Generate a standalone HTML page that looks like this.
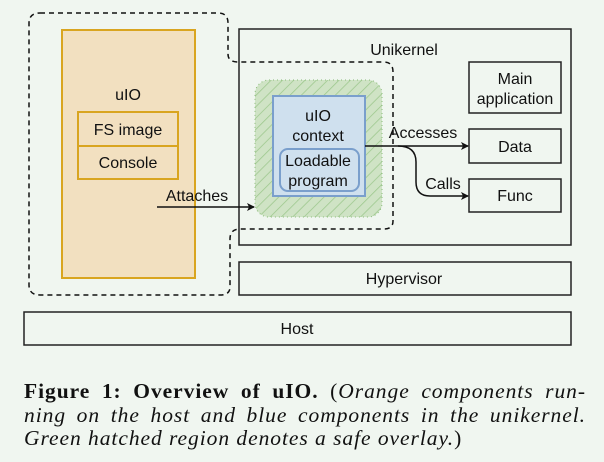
<!DOCTYPE html>
<html><head><meta charset="utf-8"><style>
html,body{margin:0;padding:0;background:#f0f6f0;}
body{width:604px;height:462px;position:relative;overflow:hidden;}
svg{position:absolute;left:0;top:0;}
.cap{position:absolute;left:24px;width:562px;font-family:"Liberation Serif",serif;font-size:21.5px;letter-spacing:0.95px;color:#111;line-height:23.5px;top:380px;text-align:justify;white-space:nowrap;}
.cap div{white-space:normal;}
.cap b{font-weight:bold;}
</style></head><body>
<svg width="604" height="462" xmlns="http://www.w3.org/2000/svg" font-family="Liberation Sans, sans-serif" font-size="16" fill="#111">
<defs>
<pattern id="h" width="8" height="8" patternUnits="userSpaceOnUse" patternTransform="rotate(45)">
<rect width="8" height="8" fill="#cfe3c5"/><line x1="0" y1="0" x2="0" y2="8" stroke="#9cc78c" stroke-width="1.5"/>
</pattern>
<marker id="a" markerWidth="8" markerHeight="8" refX="7" refY="4" orient="auto" markerUnits="userSpaceOnUse"><path d="M0,0 L8,4 L0,8 L2,4 Z" fill="#111"/></marker>
</defs>
<rect x="62" y="30" width="133" height="248" fill="#f2e0c0" stroke="#d9a520" stroke-width="2"/>
<rect x="78" y="112" width="100" height="34" fill="none" stroke="#d9a520" stroke-width="2"/>
<rect x="78" y="146" width="100" height="33" fill="none" stroke="#d9a520" stroke-width="2"/>
<text x="128" y="100" text-anchor="middle">uIO</text>
<text x="128" y="135" text-anchor="middle">FS image</text>
<text x="128" y="168" text-anchor="middle">Console</text>
<rect x="239" y="29" width="332" height="216" fill="none" stroke="#222" stroke-width="1.5"/>
<text x="404" y="55" text-anchor="middle">Unikernel</text>
<rect x="255" y="80" width="127" height="137" rx="14" fill="url(#h)" stroke="#88bb77" stroke-dasharray="1,3"/>
<rect x="273" y="96" width="92" height="100" fill="#cfe0ee" stroke="#7a9fcc" stroke-width="2"/>
<rect x="280" y="149" width="79" height="42" rx="8" fill="none" stroke="#7a9fcc" stroke-width="2"/>
<text x="318" y="121" text-anchor="middle">uIO</text>
<text x="318" y="141" text-anchor="middle">context</text>
<text x="318" y="166" text-anchor="middle">Loadable</text>
<text x="318" y="186" text-anchor="middle">program</text>
<rect x="469" y="62" width="92" height="51" fill="none" stroke="#222" stroke-width="1.5"/>
<text x="515" y="84" text-anchor="middle">Main</text>
<text x="515" y="104" text-anchor="middle">application</text>
<rect x="469" y="129" width="92" height="34" fill="none" stroke="#222" stroke-width="1.5"/>
<text x="515" y="152" text-anchor="middle">Data</text>
<rect x="469" y="179" width="92" height="33" fill="none" stroke="#222" stroke-width="1.5"/>
<text x="515" y="201" text-anchor="middle">Func</text>
<rect x="239" y="262" width="332" height="33" fill="none" stroke="#222" stroke-width="1.5"/>
<text x="404" y="284" text-anchor="middle">Hypervisor</text>
<rect x="24" y="312" width="547" height="33" fill="none" stroke="#222" stroke-width="1.5"/>
<text x="297" y="334" text-anchor="middle">Host</text>
<path d="M40,13 L218,13 Q228,13 228,23 L228,54 Q228,62 238,62 L384,62 Q393,62 393,72 L393,221 Q393,229 384,229 L240,229 Q230,229 230,239 L230,287 Q230,295 220,295 L40,295 Q29,295 29,285 L29,23 Q29,13 40,13 Z" fill="none" stroke="#111" stroke-width="1.5" stroke-dasharray="5,4"/>
<line x1="365" y1="146" x2="468" y2="146" stroke="#111" stroke-width="1.5" marker-end="url(#a)"/>
<path d="M398,146 Q416,146 416,162 L416,182 Q416,196 430,196 L468,196" fill="none" stroke="#111" stroke-width="1.5" marker-end="url(#a)"/>
<line x1="157" y1="207" x2="254" y2="207" stroke="#111" stroke-width="1.5" marker-end="url(#a)"/>
<text x="197" y="201" text-anchor="middle">Attaches</text>
<text x="423" y="138" text-anchor="middle">Accesses</text>
<text x="443" y="189" text-anchor="middle">Calls</text>
</svg>
<div class="cap"><div style="text-align-last:justify"><b>Figure 1: Overview of uIO.</b> (<i>Orange components run-</i></div><div style="text-align-last:justify"><i>ning on the host and blue components in the unikernel.</i></div><div><i>Green hatched region denotes a safe overlay.</i>)</div></div>
</body></html>
